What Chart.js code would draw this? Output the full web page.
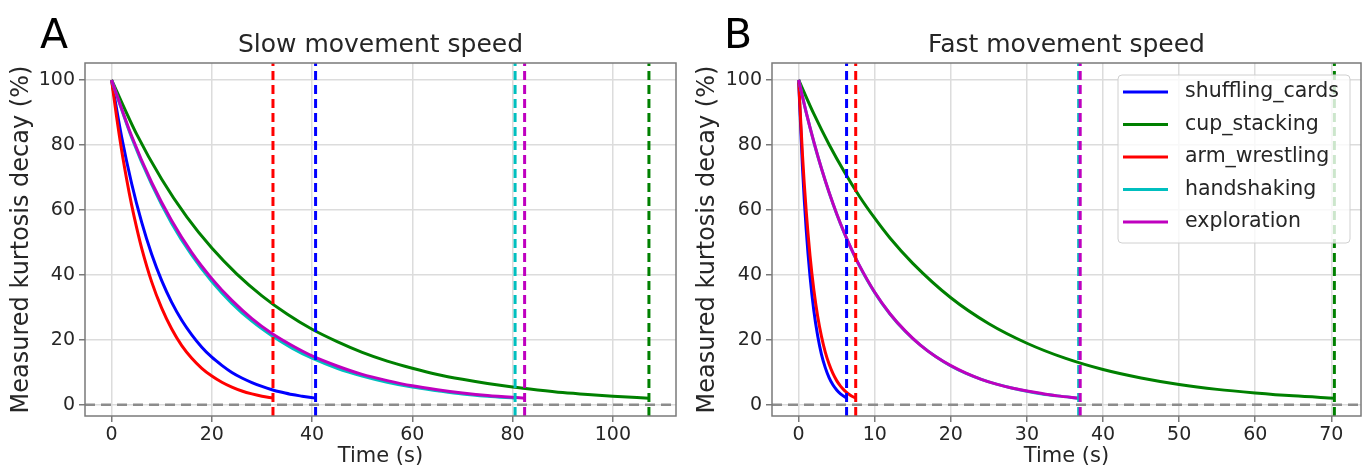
<!DOCTYPE html>
<html>
<head>
<meta charset="utf-8">
<script src="https://cdn.jsdelivr.net/npm/chart.js@4/dist/chart.umd.min.js"></script>
<style>
  html, body { margin: 0; padding: 0; background: #fff; }
  #wrap { position: relative; width: 1368px; height: 469px; }
  canvas { position: absolute; top: 0; }
  #slow { left: 0; }
  #fast { left: 684px; }
</style>
</head>
<body>
<div id="wrap">
  <canvas id="slow" width="684" height="469"></canvas>
  <canvas id="fast" width="684" height="469"></canvas>
</div>
<script>
/* kurtosis decay curves: time (s) -> decay (%) */
const series = ['shuffling_cards', 'cup_stacking', 'arm_wrestling', 'handshaking', 'exploration'];
const colours = ['#0000ff', '#008000', '#ff0000', '#00bfbf', '#bf00bf'];

// slow movement speed
const slowShuffleT = [0, 2, 4, 6, 8, 10, 12, 14, 16, 18, 20, 22, 24, 26, 28, 30, 32, 34, 36, 38, 40.7];
const slowShuffleY = [100, 82.5, 68.1, 56.2, 46.3, 38.2, 31.5, 26, 21.5, 17.7, 14.6, 12.1, 9.9, 8.2, 6.8, 5.6, 4.6, 3.8, 3.1, 2.6, 2];
const slowCupT = [0, 5, 10, 15, 20, 25, 30, 35, 40, 45, 50, 55, 60, 65, 70, 75, 80, 85, 90, 95, 100, 107.2];
const slowCupY = [100, 83.3, 69.4, 57.8, 48.2, 40.2, 33.5, 27.9, 23.2, 19.4, 16.1, 13.4, 11.2, 9.3, 7.8, 6.5, 5.4, 4.5, 3.7, 3.1, 2.6, 2];
const slowArmT = [0, 1, 2, 3, 4, 5, 6, 8, 10, 12, 14, 16, 18, 20, 22, 24, 26, 28, 30, 32.2];
const slowArmY = [100, 88.6, 78.4, 69.5, 61.5, 54.5, 48.2, 37.8, 29.7, 23.3, 18.2, 14.3, 11.2, 8.8, 6.9, 5.4, 4.2, 3.3, 2.6, 2];
const slowHandT = [0, 4, 8, 12, 16, 20, 24, 28, 32, 36, 40, 45, 50, 55, 60, 65, 70, 75, 80.5];
const slowHandY = [100, 82.3, 67.8, 55.8, 46, 37.9, 31.2, 25.7, 21.2, 17.4, 14.3, 11.2, 8.8, 6.9, 5.4, 4.3, 3.3, 2.6, 2];
const slowExploreT = [0, 4, 8, 12, 16, 20, 24, 28, 32, 36, 40, 45, 50, 55, 60, 65, 70, 75, 82.4];
const slowExploreY = [100, 82.7, 68.4, 56.6, 46.8, 38.8, 32.1, 26.5, 21.9, 18.2, 15, 11.9, 9.3, 7.4, 5.8, 4.6, 3.6, 2.8, 2];
const slowStop = [40.7, 107.2, 32.2, 80.5, 82.4];

// fast movement speed
const fastShuffleT = [0, 0.5, 1, 1.5, 2, 2.5, 3, 3.5, 4, 4.5, 5, 5.5, 6.3];
const fastShuffleY = [100, 73.3, 53.7, 39.4, 28.9, 21.2, 15.5, 11.4, 8.3, 6.1, 4.5, 3.3, 2];
const fastCupT = [0, 2, 4, 6, 8, 10, 12, 15, 20, 25, 30, 35, 40, 45, 50, 55, 60, 65, 70.4];
const fastCupY = [100, 89.5, 80.1, 71.7, 64.1, 57.4, 51.3, 43.5, 32.9, 24.9, 18.9, 14.3, 10.8, 8.2, 6.2, 4.7, 3.6, 2.7, 2];
const fastArmT = [0, 0.5, 1, 1.5, 2, 2.5, 3, 3.5, 4, 4.5, 5, 5.5, 6, 6.5, 7, 7.5];
const fastArmY = [100, 77.1, 59.4, 45.8, 35.3, 27.2, 21, 16.2, 12.5, 9.6, 7.4, 5.7, 4.4, 3.4, 2.6, 2];
const fastHandT = [0, 1, 2, 3, 4, 5, 6, 7, 8, 10, 12, 14, 16, 18, 20, 22, 24, 26, 28, 30, 32, 34, 36.8];
const fastHandY = [100, 89.9, 80.8, 72.7, 65.3, 58.7, 52.8, 47.5, 42.7, 34.5, 27.9, 22.6, 18.3, 14.8, 11.9, 9.6, 7.8, 6.3, 5.1, 4.1, 3.3, 2.7, 2];
const fastExploreT = [0, 1, 2, 3, 4, 5, 6, 7, 8, 10, 12, 14, 16, 18, 20, 22, 24, 26, 28, 30, 32, 34, 36.9];
const fastExploreY = [100, 89.9, 80.9, 72.7, 65.4, 58.8, 52.9, 47.6, 42.8, 34.6, 28, 22.7, 18.3, 14.8, 12, 9.7, 7.8, 6.3, 5.1, 4.2, 3.4, 2.7, 2];
const fastStop = [6.3, 70.4, 7.5, 36.8, 37.0];

// axes
const yTicks = [0, 20, 40, 60, 80, 100];
const slowXTicks = [0, 20, 40, 60, 80, 100];
const fastXTicks = [0, 10, 20, 30, 40, 50, 60, 70];
const yRange = [-3.5, 105.2];
const slowXRange = [-5.3, 112.6];
const fastXRange = [-3.5, 73.9];

const FONT = "'DejaVu Sans', sans-serif";
const INK = '#262626';

const zip = (t, y) => t.map((v, i) => ({ x: v, y: y[i] }));

function buildDatasets(curves, stops, xRange) {
  const sets = curves.map(([t, y], i) => ({
    label: series[i],
    data: zip(t, y),
    borderColor: colours[i],
    borderWidth: 3,
    pointRadius: 0,
    cubicInterpolationMode: 'monotone',
    order: 20 - i,
  }));
  sets.push({
    label: 'zero',
    data: [{ x: xRange[0], y: 0 }, { x: xRange[1], y: 0 }],
    borderColor: '#8c8c8c',
    borderWidth: 2.5,
    borderDash: [10, 6],
    pointRadius: 0,
    order: 10,
  });
  stops.forEach((s, i) => {
    sets.push({
      label: series[i] + '_end',
      data: [{ x: s, y: yRange[0] }, { x: s, y: yRange[1] }],
      borderColor: colours[i],
      borderWidth: 3,
      borderDash: [9, 5],
      pointRadius: 0,
      order: 5 - i * 0.1,
    });
  });
  return sets;
}

const framePlugin = {
  id: 'frame',
  afterDraw(chart, args, opts) {
    const { ctx, chartArea: a } = chart;
    ctx.save();
    ctx.strokeStyle = '#7a7a7a';
    ctx.lineWidth = 1.5;
    ctx.strokeRect(a.left, a.top, a.right - a.left, a.bottom - a.top);
    ctx.fillStyle = '#000';
    ctx.font = '41px ' + FONT;
    ctx.textBaseline = 'alphabetic';
    ctx.fillText(opts.letter, opts.letterX, 48);
    ctx.restore();
  },
};

const legendPlugin = {
  id: 'boxLegend',
  afterDatasetsDraw(chart, args, opts) {
    if (!opts.show) return;
    const { ctx, chartArea: a } = chart;
    const w = 232, h = 168;
    const x0 = a.right - 11 - w, y0 = a.top + 12;
    ctx.save();
    ctx.beginPath();
    ctx.roundRect(x0, y0, w, h, 4);
    ctx.fillStyle = 'rgba(255,255,255,0.8)';
    ctx.fill();
    ctx.strokeStyle = '#d0d0d0';
    ctx.lineWidth = 1;
    ctx.stroke();
    ctx.font = '20.5px ' + FONT;
    ctx.textBaseline = 'middle';
    series.forEach((name, i) => {
      const yy = y0 + 17 + i * 32.5;
      ctx.strokeStyle = colours[i];
      ctx.lineWidth = 3;
      ctx.beginPath();
      ctx.moveTo(x0 + 5, yy);
      ctx.lineTo(x0 + 50, yy);
      ctx.stroke();
      ctx.fillStyle = INK;
      ctx.fillText(name, x0 + 67, yy);
    });
    ctx.restore();
  },
};

function makeChart(id, cfg) {
  return new Chart(document.getElementById(id), {
    type: 'line',
    data: { datasets: buildDatasets(cfg.curves, cfg.stops, cfg.xRange) },
    plugins: [framePlugin, legendPlugin],
    options: {
      responsive: false,
      animation: false,
      devicePixelRatio: 1,
      layout: { padding: { left: 0, right: cfg.padRight, top: 0, bottom: 0 } },
      plugins: {
        legend: { display: false },
        tooltip: { enabled: false },
        title: {
          display: true,
          text: cfg.title,
          fullSize: false,
          color: INK,
          font: { family: FONT, size: 25, weight: 'normal' },
          padding: { top: 30, bottom: 3 },
        },
        frame: { letter: cfg.letter, letterX: cfg.letterX },
        boxLegend: { show: cfg.legend },
      },
      scales: {
        x: {
          type: 'linear',
          min: cfg.xRange[0],
          max: cfg.xRange[1],
          afterBuildTicks: (s) => { s.ticks = cfg.xTicks.map((v) => ({ value: v })); },
          afterFit: (s) => { s.height = 53; },
          grid: { color: '#dcdcdc', lineWidth: 1.5, tickLength: 6, tickColor: '#7a7a7a' },
          border: { display: false },
          ticks: { color: INK, padding: 2, maxRotation: 0, font: { family: FONT, size: 19 } },
          title: {
            display: true,
            text: 'Time (s)',
            color: INK,
            font: { family: FONT, size: 21 },
            padding: { top: 0, bottom: 0 },
          },
        },
        y: {
          type: 'linear',
          min: yRange[0],
          max: yRange[1],
          afterBuildTicks: (s) => { s.ticks = yTicks.map((v) => ({ value: v })); },
          afterFit: (s) => { s.width = cfg.yWidth; },
          grid: { color: '#dcdcdc', lineWidth: 1.5, tickLength: 6, tickColor: '#7a7a7a' },
          border: { display: false },
          ticks: { color: INK, padding: 4, font: { family: FONT, size: 19 } },
          title: {
            display: true,
            text: 'Measured kurtosis decay (%)',
            color: INK,
            font: { family: FONT, size: 24 },
            padding: { top: cfg.yTitlePad, bottom: 0 },
          },
        },
      },
    },
  });
}

makeChart('slow', {
  title: 'Slow movement speed',
  letter: 'A', letterX: 40,
  curves: [
    [slowShuffleT, slowShuffleY], [slowCupT, slowCupY], [slowArmT, slowArmY],
    [slowHandT, slowHandY], [slowExploreT, slowExploreY],
  ],
  stops: slowStop,
  xRange: slowXRange,
  xTicks: slowXTicks,
  yWidth: 85, padRight: 8, yTitlePad: 7,
  legend: false,
});

makeChart('fast', {
  title: 'Fast movement speed',
  letter: 'B', letterX: 40,
  curves: [
    [fastShuffleT, fastShuffleY], [fastCupT, fastCupY], [fastArmT, fastArmY],
    [fastHandT, fastHandY], [fastExploreT, fastExploreY],
  ],
  stops: fastStop,
  xRange: fastXRange,
  xTicks: fastXTicks,
  yWidth: 88, padRight: 7, yTitlePad: 9,
  legend: true,
});
</script>
</body>
</html>
